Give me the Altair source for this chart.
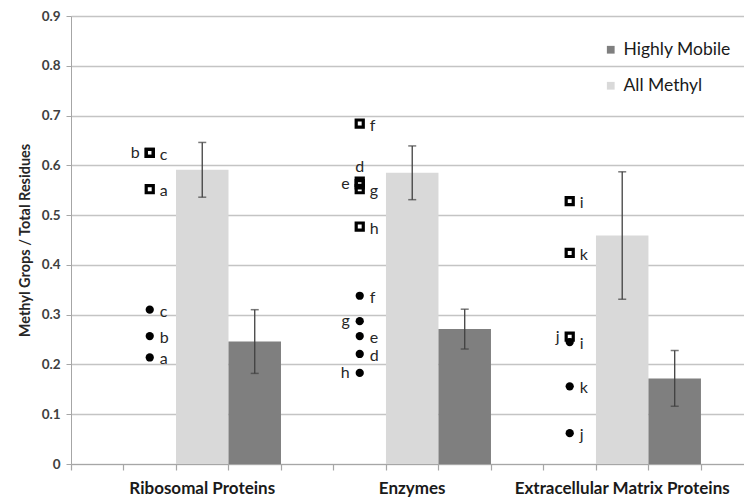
import altair as alt
import pandas as pd

# ---- data ----
categories = ["Ribosomal Proteins", "Enzymes", "Extracellular Matrix Proteins"]
series_names = ["Highly Mobile", "All Methyl"]

all_methyl_mean = [0.591, 0.585, 0.459]
all_methyl_err = [0.055, 0.054, 0.128]
highly_mobile_mean = [0.246, 0.271, 0.172]
highly_mobile_err = [0.064, 0.040, 0.056]

letters = ["a", "b", "c", "d", "e", "f", "g", "h", "i", "j", "k"]
letter_group = [0, 0, 0, 1, 1, 1, 1, 1, 2, 2, 2]
square_values = [0.552, 0.625, 0.625, 0.567, 0.562, 0.684, 0.552, 0.477, 0.528, 0.256, 0.424]
square_label_side = ["right", "left", "right", "above", "left", "right", "right", "right", "right", "left", "right"]
circle_values = [0.214, 0.257, 0.310, 0.221, 0.257, 0.338, 0.287, 0.183, 0.245, 0.062, 0.156]
circle_label_side = ["right", "right", "right", "right", "right", "right", "left", "left", "right", "right", "right"]

# ---- tables ----
# each category occupies 4 slots on the x axis: gap, points, All Methyl bar, Highly Mobile bar
bar_rows = []
for i, cat in enumerate(categories):
    bar_rows.append(dict(series="All Methyl", cat=cat, x0=4 * i + 2, x1=4 * i + 3, xc=4 * i + 2.5,
                         mean=all_methyl_mean[i], lo=all_methyl_mean[i] - all_methyl_err[i],
                         hi=all_methyl_mean[i] + all_methyl_err[i]))
    bar_rows.append(dict(series="Highly Mobile", cat=cat, x0=4 * i + 3, x1=4 * i + 4, xc=4 * i + 3.5,
                         mean=highly_mobile_mean[i], lo=highly_mobile_mean[i] - highly_mobile_err[i],
                         hi=highly_mobile_mean[i] + highly_mobile_err[i]))
bars_df = pd.DataFrame(bar_rows)

pt_rows = []
for j, L in enumerate(letters):
    xg = 4 * letter_group[j] + 1.5
    pt_rows.append(dict(letter=L, kind="square", x=xg, v=square_values[j], side=square_label_side[j]))
    pt_rows.append(dict(letter=L, kind="circle", x=xg, v=circle_values[j], side=circle_label_side[j]))
pts_df = pd.DataFrame(pt_rows)

cat_df = pd.DataFrame(dict(cat=categories, xc=[4 * i + 2.5 for i in range(len(categories))]))

# ---- scales / axes ----
FONT = "Lato"
xscale = alt.Scale(domain=[0, 12.82], nice=False, zero=False)
xaxis = alt.Axis(values=list(range(13)), labels=False, grid=False, ticks=True, tickSize=6,
                 tickColor="#a6a6a6", domainColor="#a6a6a6", tickWidth=1.2, domainWidth=1.2, title=None)
yscale = alt.Scale(domain=[0, 0.9], nice=False, zero=True)
yaxis = alt.Axis(values=[round(0.1 * k, 1) for k in range(10)], format=".1~f", grid=True,
                 gridColor="#c4c4c4", gridWidth=1.3, tickColor="#a6a6a6", domainColor="#a6a6a6",
                 tickSize=5, labelPadding=6, labelFontSize=13.5, labelColor="#404040", labelFont=FONT,
                 labelFontWeight="bold",
                 title="Methyl Grops / Total Residues", titleFontSize=14.5, titleFont=FONT,
                 titleFontWeight="bold", titleColor="#262626", titlePadding=9)


def X(field):
    return alt.X(field, type="quantitative", scale=xscale, axis=xaxis)


def Y(field):
    return alt.Y(field, type="quantitative", scale=yscale, axis=yaxis)


bars = alt.Chart(bars_df).mark_bar(strokeWidth=0).encode(
    x=X("x0"), x2="x1", y=Y("mean"), y2=alt.Y2(datum=0),
    color=alt.Color("series:N", scale=alt.Scale(domain=series_names, range=["#7f7f7f", "#d9d9d9"]),
                    legend=alt.Legend(orient="none", legendX=531, legendY=25, title=None,
                                      symbolType="square", symbolSize=60, symbolStrokeWidth=0,
                                      labelFontSize=17.5, labelFont=FONT, labelColor="#1a1a1a",
                                      rowPadding=17, labelOffset=4)),
)

err_rule = alt.Chart(bars_df).mark_rule(color="#404040", strokeWidth=1.3).encode(
    x=X("xc"), y=Y("lo"), y2="hi")
err_caps = alt.Chart(bars_df).transform_fold(["lo", "hi"], as_=["end", "val"]).mark_tick(
    orient="horizontal", color="#404040", size=8, thickness=1.5).encode(x=X("xc"), y=Y("val"))

squares = alt.Chart(pts_df).transform_filter(alt.datum.kind == "square").mark_point(
    shape="square", filled=False, stroke="black", strokeWidth=3.2, size=50, opacity=1).encode(
    x=X("x"), y=Y("v"))
circles = alt.Chart(pts_df).transform_filter(alt.datum.kind == "circle").mark_point(
    shape="circle", filled=True, fill="black", size=68, opacity=1, strokeWidth=0).encode(
    x=X("x"), y=Y("v"))

lab_common = dict(fontSize=16, font=FONT, color="#262626", baseline="middle")
lab_right = alt.Chart(pts_df).transform_filter(alt.datum.side == "right").mark_text(
    align="left", dx=10, dy=2, **lab_common).encode(x=X("x"), y=Y("v"), text="letter:N")
lab_left = alt.Chart(pts_df).transform_filter(alt.datum.side == "left").mark_text(
    align="right", dx=-10, dy=0, **lab_common).encode(x=X("x"), y=Y("v"), text="letter:N")
lab_above = alt.Chart(pts_df).transform_filter(alt.datum.side == "above").mark_text(
    align="center", dx=0, dy=-15, **lab_common).encode(x=X("x"), y=Y("v"), text="letter:N")

cat_labels = alt.Chart(cat_df).mark_text(
    fontSize=17, font=FONT, fontWeight="bold", color="#1a1a1a", baseline="middle", dy=25).encode(
    x=X("xc"), y=alt.Y(datum=0, type="quantitative", scale=yscale, axis=yaxis), text="cat:N")

chart = alt.layer(bars, err_rule, err_caps, squares, circles, lab_right, lab_left, lab_above,
                  cat_labels).properties(
    width=673, height=448,
    autosize=alt.AutoSizeParams(type="none"),
    padding={"left": 63, "top": 8, "right": 0, "bottom": 35},
    background="white",
).configure_view(stroke=None)

chart.save("out.html", embed_options={"renderer": "svg", "actions": False})
